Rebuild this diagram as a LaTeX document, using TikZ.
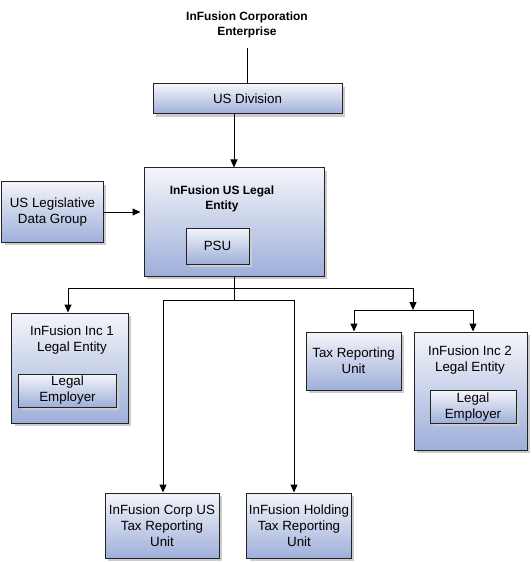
\documentclass[tikz,border=0pt]{standalone}
\usepackage{fontspec}
\setmainfont{Liberation Sans}
\usetikzlibrary{arrows.meta,shadows}
\definecolor{boxtop}{RGB}{244,245,250}
\definecolor{boxbot}{RGB}{158,175,218}
\definecolor{edge}{RGB}{35,35,35}
\tikzset{
 box/.style={draw=edge, line width=1bp, top color=boxtop, bottom color=boxbot,
   drop shadow={shadow xshift=3bp, shadow yshift=-3bp, fill=black!20, opacity=1},
   align=center, font=\fontsize{13.4}{16}\selectfont, inner sep=2bp},
 lbl/.style={align=center, font=\fontsize{13.4}{16}\selectfont, inner sep=0pt},
 blbl/.style={align=center, font=\bfseries\fontsize{12}{14.5}\selectfont, inner sep=0pt},
 conn/.style={line width=1bp, draw=black},
 arr/.style={conn, -{Triangle[length=8bp,width=7bp]}},
}
\begin{document}
\begin{tikzpicture}[x=1bp,y=-1bp]
\useasboundingbox (0,0) rectangle (532,562);
% title
\node[blbl] (title) at (247,25) {InFusion Corporation\\Enterprise};
\coordinate (tb) at (247,48);
% boxes
\node[box, minimum width=189bp, minimum height=30bp] (usdiv) at (247.5,99) {US Division};
\node[box, minimum width=180bp, minimum height=108bp] (legal) at (234,222) {};
\node[blbl] (legallbl) at (222,199) {InFusion US Legal\\Entity};
\node[box, minimum width=63bp, minimum height=36bp] (psu) at (217.5,246) {PSU};
\node[box, minimum width=101bp, minimum height=60bp] (ldg) at (52.5,212) {US Legislative\\Data Group};
\node[box, minimum width=116bp, minimum height=110bp] (inc1) at (70,368) {};
\node[lbl] (inc1lbl) at (72,340) {InFusion Inc 1\\Legal Entity};
\node[box, minimum width=97bp, minimum height=33bp] (le1) at (67.5,390.5) {Legal\\Employer};
\node[box, minimum width=95bp, minimum height=58bp] (tru) at (353.5,361) {Tax Reporting\\Unit};
\node[box, minimum width=113bp, minimum height=118bp] (inc2) at (470.5,391) {};
\node[lbl] (inc2lbl) at (470,360) {InFusion Inc 2\\Legal Entity};
\node[box, minimum width=86bp, minimum height=32bp] (le2) at (473,407) {Legal\\Employer};
\node[box, minimum width=114bp, minimum height=65bp] (corp) at (162,525.5) {InFusion Corp US\\Tax Reporting\\Unit};
\node[box, minimum width=104bp, minimum height=65bp] (hold) at (299,525.5) {InFusion Holding\\Tax Reporting\\Unit};
% junction coordinates
\coordinate (busL) at (68,288);
\coordinate (busR) at (413,288);
\coordinate (m1) at (163,300);
\coordinate (m2) at (294,300);
\coordinate (rt) at (413,310);
\coordinate (r1) at (354,310);
\coordinate (r2) at (473,310);
% connectors
\draw[conn] (tb) -- (usdiv.north -| tb);
\draw[arr] (usdiv.south -| legal.north) -- (legal.north);
\draw[arr, shorten >=3bp] (ldg.east) -- (ldg.east -| legal.west);
\draw[conn] (legal.south) -- (legal.south |- m1);
\draw[conn] (busL) -- (busR);
\draw[arr] (busL) -- (busL |- inc1.north);
\draw[conn] (m1) -- (m2);
\draw[arr] (m1) -- (m1 |- corp.north);
\draw[arr] (m2) -- (m2 |- hold.north);
\draw[arr] (busR) -- (rt);
\draw[conn] (r1) -- (r2);
\draw[arr] (r1) -- (r1 |- tru.north);
\draw[arr] (r2) -- (r2 |- inc2.north);
\end{tikzpicture}
\end{document}
